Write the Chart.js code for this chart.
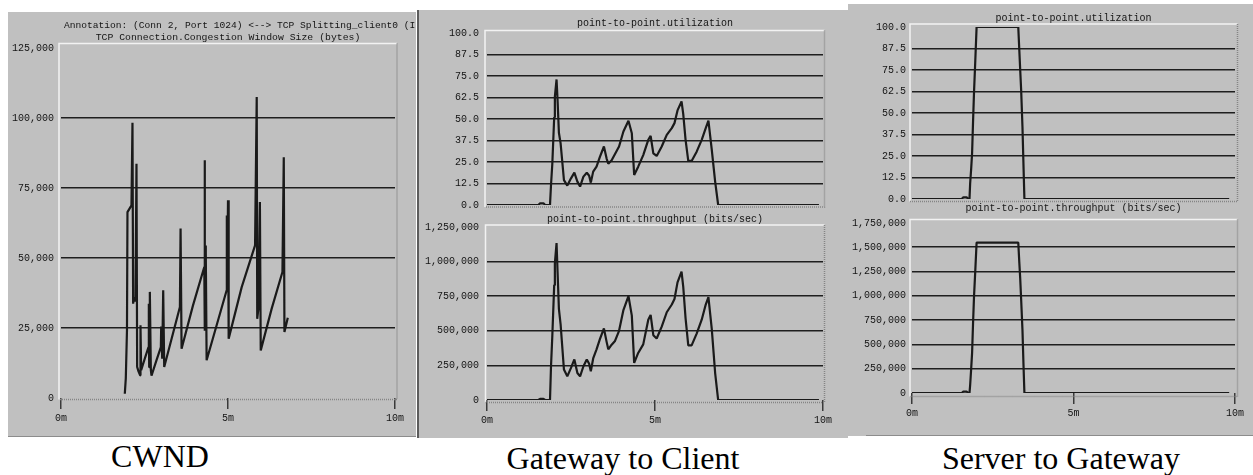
<!DOCTYPE html>
<html>
<head>
<meta charset="utf-8">
<script src="https://cdn.jsdelivr.net/npm/chart.js@4.4.1/dist/chart.umd.min.js"></script>
<style>
  html, body { margin: 0; padding: 0; background: #fff; }
  #stage { position: relative; width: 1253px; height: 475px; overflow: hidden; background: #fff; }
  .panel { position: absolute; background: #c0c0c0; }
  .rule { position: absolute; background: #5c5c5c; }
  canvas { position: absolute; }
  .caption {
    position: absolute; font-family: "Liberation Serif", "Times New Roman", serif;
    font-size: 32px; line-height: 32px; color: #000; white-space: nowrap; text-align: center;
  }
</style>
</head>
<body>
<div id="stage">
  <div class="panel" style="left:8px;top:12px;width:408px;height:425px;"></div>
  <div class="rule" style="left:8px;top:435.5px;width:408px;height:1.5px;background:#8c8c8c;"></div>
  <div class="rule" style="left:416.5px;top:10px;width:2.5px;height:428px;"></div>
  <div class="panel" style="left:419px;top:10px;width:429px;height:428px;"></div>
  <div class="panel" style="left:848px;top:4px;width:405px;height:432px;"></div>
  <div class="rule" style="left:866px;top:434.5px;width:387px;height:1.5px;background:#8c8c8c;"></div>

  <canvas id="cwnd" width="408" height="425" style="left:8px;top:12px;"></canvas>
  <canvas id="g2cUtilChart" width="429" height="212" style="left:419px;top:10px;"></canvas>
  <canvas id="g2cTputChart" width="429" height="226" style="left:419px;top:212px;"></canvas>
  <canvas id="s2gUtilChart" width="405" height="212" style="left:848px;top:4px;"></canvas>
  <canvas id="s2gTputChart" width="405" height="236" style="left:848px;top:200px;"></canvas>

  <div class="caption" style="left:60px;top:440px;width:200px;">CWND</div>
  <div class="caption" style="left:473px;top:442px;width:300px;">Gateway to Client</div>
  <div class="caption" style="left:911px;top:442px;width:300px;">Server to Gateway</div>
</div>

<script>
// ---- TCP congestion window (bytes) over simulated time (minutes) ----
const cwndTime = [1.91, 1.94, 1.975, 1.99, 2.11, 2.14, 2.16, 2.19, 2.23, 2.26, 2.28, 2.32, 2.37, 2.38, 2.40,
  2.52, 2.62, 2.63, 2.64, 2.66, 2.69, 2.71, 2.86, 2.99, 3.00, 3.03, 3.06, 3.09, 3.56, 3.58, 3.61,
  3.95, 4.29, 4.30, 4.31, 4.32, 4.33, 4.34, 4.36, 4.96, 4.965, 4.975, 5.00, 5.02, 5.41, 5.81, 5.86,
  5.875, 5.91, 5.955, 5.98, 6.31, 6.63, 6.67, 6.69, 6.79];
const cwndBytes = [1500, 7000, 24000, 66400, 68800, 98300, 33700, 36000, 34500, 83700, 11100, 9500, 8100, 26000, 9900,
  14500, 18200, 33700, 11000, 37900, 10000, 8000, 13500, 18200, 25500, 14000, 38500, 11100, 32500, 60500, 17600,
  33000, 46800, 84900, 24000, 54500, 24500, 52000, 13500, 38500, 65200, 40000, 70600, 21200, 39600, 54500, 107500,
  28300, 31900, 70000, 17000, 32000, 45000, 86000, 23600, 28700];

// ---- Gateway -> client link ----
const g2cTime = [0, 1.53, 1.58, 1.68, 1.73, 1.875, 1.905, 1.944, 2.00, 2.02, 2.07, 2.10, 2.14, 2.19, 2.29, 2.39,
  2.50, 2.60, 2.69, 2.77, 2.87, 2.97, 3.04, 3.09, 3.16, 3.26, 3.36, 3.48, 3.56, 3.61, 3.71, 3.81, 3.93, 4.06,
  4.21, 4.31, 4.38, 4.50, 4.65, 4.80, 4.87, 4.95, 5.05, 5.20, 5.35, 5.50, 5.58, 5.67, 5.79, 5.84, 5.91, 5.99,
  6.09, 6.24, 6.39, 6.51, 6.59, 6.69, 6.79, 6.88, 9.88];
const g2cUtil = [0, 0, 1, 1, 0, 0, 11.6, 24, 51, 63, 73, 61, 42, 36, 14.5, 11.3,
  15.5, 18.8, 13.6, 10.7, 16.5, 18.8, 17, 13, 19.4, 22.3, 28, 34, 27, 24, 26, 29.7, 34, 42.7,
  49, 41.7, 17.5, 22.3, 29, 37.9, 40.2, 30, 28.5, 34, 40.8, 44.7, 47.6, 55, 60.2, 53, 37.9, 25.6,
  25.6, 31, 37.9, 44.7, 49, 32, 13.6, 0, 0];
const g2cThroughput = [0, 0, 8000, 8000, 0, 0, 244000, 463000, 830000, 988000, 1134000, 927000, 658000, 549000, 220000, 171000,
  232000, 293000, 195000, 171000, 244000, 293000, 262000, 207000, 300000, 366000, 440000, 517000, 420000, 366000, 400000, 427000, 500000, 650000,
  751000, 610000, 268000, 340000, 402000, 580000, 615000, 468000, 444000, 530000, 634000, 690000, 730000, 850000, 927000, 820000, 590000, 395000,
  395000, 480000, 580000, 690000, 744000, 512000, 195000, 0, 0];

// ---- Server -> gateway link ----
const s2gTime = [0, 1.54, 1.59, 1.69, 1.74, 1.78, 1.80, 1.83, 1.86, 1.89, 1.92, 1.96, 2.00, 3.29, 3.32, 3.35, 3.38, 3.42, 3.45, 3.48, 9.82];
const s2gUtil = [0, 0, 1, 1, 0, 0, 9, 17, 26.5, 45, 62, 80.7, 100, 100, 87.4, 75, 63, 42, 20.7, 0, 0];
const s2gThroughput = [0, 0, 15000, 15000, 0, 0, 80000, 239000, 410000, 718000, 992000, 1265000, 1549000, 1549000, 1358000, 1180000, 958000, 650000, 308000, 0, 0];

// ---- axis ticks ----
const minuteTicks = [0, 5, 10];
const cwndTicks = [0, 25000, 50000, 75000, 100000, 125000];
const utilTicks = [0, 12.5, 25, 37.5, 50, 62.5, 75, 87.5, 100];
const g2cTputTicks = [0, 250000, 500000, 750000, 1000000, 1250000];
const s2gTputTicks = [0, 250000, 500000, 750000, 1000000, 1250000, 1500000, 1750000];

const INK = '#141414';
const MONO = '"Liberation Mono", "DejaVu Sans Mono", monospace';

// Bevelled frame round the plotting area: light top/left, dotted grey right/bottom.
const plotFrame = {
  id: 'plotFrame',
  beforeDatasetsDraw(chart, args, o) {
    const a = chart.chartArea, ctx = chart.ctx;
    const L = a.left + o.dl, T = a.top + o.dt, R = a.right + o.dr, B = a.bottom + o.db;
    ctx.save();
    ctx.lineWidth = 1.5;
    ctx.strokeStyle = '#f2f2f2';
    ctx.beginPath(); ctx.moveTo(L, B); ctx.lineTo(L, T); ctx.lineTo(R, T); ctx.stroke();
    ctx.strokeStyle = '#858585';
    ctx.setLineDash([1, 1]);
    ctx.beginPath(); ctx.moveTo(R, T); ctx.lineTo(R, B); ctx.lineTo(L, B); ctx.stroke();
    ctx.restore();
  }
};

// Statistic names printed above each plot.
const plotTitles = {
  id: 'plotTitles',
  afterDraw(chart, args, o) {
    const ctx = chart.ctx, a = chart.chartArea;
    ctx.save();
    ctx.fillStyle = INK;
    ctx.textBaseline = 'alphabetic';
    for (const ln of o.lines) {
      ctx.font = ln.size + 'px ' + MONO;
      if (ln.x !== undefined) { ctx.textAlign = 'left'; ctx.fillText(ln.text, ln.x, ln.y); }
      else { ctx.textAlign = 'center'; ctx.fillText(ln.text, (a.left + a.right) / 2, ln.y); }
    }
    ctx.restore();
  }
};

function series(xs, ys) { return xs.map((x, i) => ({ x: x, y: ys[i] })); }

function makeChart(id, cfg) {
  const yTicks = cfg.yTicks, yMax = yTicks[yTicks.length - 1];
  return new Chart(document.getElementById(id), {
    type: 'line',
    data: { datasets: [{
      data: series(cfg.xs, cfg.ys),
      borderColor: '#1a1a1a', borderWidth: 2.2, pointRadius: 0, tension: 0,
      borderJoinStyle: 'bevel', fill: false
    }] },
    plugins: [plotFrame, plotTitles],
    options: {
      responsive: false, animation: false, devicePixelRatio: 1,
      layout: { padding: cfg.pad },
      plugins: {
        legend: { display: false }, tooltip: { enabled: false },
        plotFrame: cfg.frame,
        plotTitles: { lines: cfg.titles }
      },
      scales: {
        x: {
          type: 'linear', min: 0, max: 10, display: cfg.showX,
          afterBuildTicks: s => { s.ticks = minuteTicks.map(v => ({ value: v })); },
          afterFit: s => { s.height = cfg.xh; },
          border: { display: false },
          grid: { drawOnChartArea: false, drawTicks: true, tickLength: 11, color: '#3a3a3a', lineWidth: 1.5 },
          ticks: { padding: 3, color: INK, font: { family: MONO, size: 10 }, maxRotation: 0, autoSkip: false,
                   callback: v => v + 'm' }
        },
        y: {
          type: 'linear', min: 0, max: yMax,
          afterBuildTicks: s => { s.ticks = yTicks.map(v => ({ value: v })); },
          afterFit: s => { s.width = cfg.yw; },
          border: { display: false },
          grid: { drawTicks: false, lineWidth: 1.6,
                  color: c => (c.tick && (c.tick.value === 0 || c.tick.value === yMax)) ? 'rgba(0,0,0,0)' : '#1e1e1e' },
          ticks: { padding: cfg.yPad, color: INK, font: { family: MONO, size: 10 }, autoSkip: false,
                   callback: cfg.fmt }
        }
      }
    }
  });
}

const fmtInt = v => Number(v).toLocaleString('en-US');
const fmtPct = v => Number(v).toFixed(1);

makeChart('cwnd', {
  xs: cwndTime, ys: cwndBytes, yTicks: cwndTicks, fmt: fmtInt,
  yw: 53, yPad: 7, xh: 39, showX: true,
  pad: { left: 0, top: 36, right: 21, bottom: 0 },
  frame: { dl: -2, dt: -4.5, dr: 2, db: 1.5 },
  titles: [
    { text: 'Annotation: (Conn 2, Port 1024) <--> TCP Splitting_client0 (I', x: 56, y: 16, size: 9.6 },
    { text: 'TCP Connection.Congestion Window Size (bytes)', y: 28, size: 9.8 }
  ]
});

makeChart('g2cUtilChart', {
  xs: g2cTime, ys: g2cUtil, yTicks: utilTicks, fmt: fmtPct,
  yw: 68, yPad: 8, xh: 0, showX: false,
  pad: { left: 0, top: 23, right: 25, bottom: 17 },
  frame: { dl: -2, dt: -2.5, dr: 1.5, db: 2 },
  titles: [{ text: 'point-to-point.utilization', y: 15.5, size: 10 }]
});

makeChart('g2cTputChart', {
  xs: g2cTime, ys: g2cThroughput, yTicks: g2cTputTicks, fmt: fmtInt,
  yw: 68, yPad: 8, xh: 38, showX: true,
  pad: { left: 0, top: 15, right: 25, bottom: 0 },
  frame: { dl: -1.5, dt: -2, dr: 1.5, db: 2.5 },
  titles: [{ text: 'point-to-point.throughput (bits/sec)', y: 9.7, size: 10 }]
});

makeChart('s2gUtilChart', {
  xs: s2gTime, ys: s2gUtil, yTicks: utilTicks, fmt: fmtPct,
  yw: 64, yPad: 6, xh: 0, showX: false,
  pad: { left: 0, top: 23, right: 18, bottom: 17 },
  frame: { dl: -2, dt: -3, dr: 2.5, db: 2.5 },
  titles: [{ text: 'point-to-point.utilization', y: 16.7, size: 10 }]
});

makeChart('s2gTputChart', {
  xs: s2gTime, ys: s2gThroughput, yTicks: s2gTputTicks, fmt: fmtInt,
  yw: 64, yPad: 6, xh: 43, showX: true,
  pad: { left: 0, top: 23, right: 18, bottom: 0 },
  frame: { dl: -2, dt: -3.5, dr: 2.5, db: 3.5 },
  titles: [{ text: 'point-to-point.throughput (bits/sec)', y: 10.7, size: 10 }]
});
</script>
</body>
</html>
